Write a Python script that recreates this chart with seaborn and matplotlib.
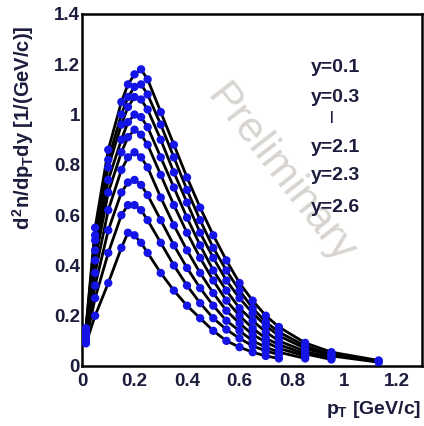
import numpy as np
import pandas as pd
import matplotlib
matplotlib.use("Agg")
import matplotlib.pyplot as plt
from matplotlib.ticker import MultipleLocator, FormatStrFormatter
import seaborn as sns

# ---------------- data ----------------
pt = [0.015, 0.05, 0.1, 0.15, 0.175, 0.2, 0.225, 0.25, 0.3, 0.35, 0.4, 0.45,
      0.5, 0.55, 0.6, 0.65, 0.7, 0.75, 0.85, 0.95, 1.13]
nan = np.nan
curve_1 = [0.15, 0.55, 0.86, 1.05, 1.12, 1.16, 1.18, 1.14, 1.01, 0.88, 0.75, 0.63,
           0.52, 0.42, 0.33, 0.26, 0.20, 0.155, 0.092, 0.055, 0.022]
curve_2 = [0.15, 0.52, 0.82, 1.00, 1.07, 1.11, 1.12, 1.08, 0.96, 0.83, 0.70, 0.58,
           0.47, 0.38, 0.30, 0.23, 0.175, 0.135, 0.080, 0.045, 0.018]
curve_3 = [0.14, 0.50, 0.79, 0.96, 1.03, 1.07, 1.06, 1.02, 0.90, 0.77, 0.65, 0.53,
           0.43, 0.34, 0.27, 0.21, 0.16, 0.12, 0.070, 0.040, 0.015]
curve_4 = [0.14, 0.46, 0.74, 0.90, 0.97, 1.00, 0.99, 0.95, 0.83, 0.71, 0.59, 0.48,
           0.38, 0.30, 0.23, 0.18, 0.135, 0.10, 0.058, 0.032, nan]
curve_5 = [0.13, 0.42, 0.69, 0.85, 0.91, 0.94, 0.92, 0.88, 0.76, 0.64, 0.53, 0.43,
           0.34, 0.26, 0.20, 0.15, 0.11, 0.085, 0.048, 0.026, nan]
curve_6 = [0.12, 0.37, 0.62, 0.78, 0.83, 0.85, 0.83, 0.79, 0.67, 0.56, 0.46, 0.37,
           0.29, 0.22, 0.17, 0.125, 0.095, 0.07, 0.040, nan, nan]
curve_7 = [0.11, 0.32, 0.54, 0.69, 0.73, 0.74, 0.72, 0.68, 0.58, 0.48, 0.39, 0.31,
           0.24, 0.18, 0.14, 0.10, 0.075, 0.055, 0.030, nan, nan]
curve_8 = [0.10, 0.27, 0.45, 0.60, 0.64, 0.64, 0.62, 0.58, 0.49, 0.40, 0.32, 0.25,
           0.19, 0.145, 0.11, 0.08, 0.06, 0.045, nan, nan, nan]
curve_9 = [0.09, 0.20, 0.33, 0.47, 0.53, 0.52, 0.49, 0.45, 0.37, 0.30, 0.24, 0.19,
           0.14, 0.10, 0.075, 0.055, 0.04, 0.03, nan, nan, nan]
curves = [curve_1, curve_2, curve_3, curve_4, curve_5, curve_6, curve_7, curve_8, curve_9]
legend_labels = ["y=0.1", "y=0.3", "|", "y=2.1", "y=2.3", "y=2.6"]
x_ticks = [0, 0.2, 0.4, 0.6, 0.8, 1.0, 1.2]
y_ticks = [0, 0.2, 0.4, 0.6, 0.8, 1.0, 1.2, 1.4]

rows = []
for i, c in enumerate(curves):
    for p, v in zip(pt, c):
        if not np.isnan(v):
            rows.append({"pt": p, "val": v, "curve": i})
df = pd.DataFrame(rows)

# ---------------- style ----------------
sns.set_style("white")
plt.rcParams["font.family"] = ["Liberation Sans", "DejaVu Sans"]
plt.rcParams["mathtext.fontset"] = "custom"
plt.rcParams["mathtext.rm"] = "Liberation Sans:bold"
plt.rcParams["mathtext.bf"] = "Liberation Sans:bold"
plt.rcParams["mathtext.it"] = "Liberation Sans:bold"

fig = plt.figure(figsize=(4.24, 4.26), dpi=100)
ax = fig.add_axes([82 / 424, 60 / 426, 340 / 424, 352 / 426])

text_col = "#1c1c3c"

# watermark
ax.text(0.585, 0.545, "Preliminary", transform=ax.transAxes, rotation=-52,
        ha="center", va="center", fontsize=31, color="#d8d4d0", zorder=0)

sns.lineplot(data=df, x="pt", y="val", units="curve", estimator=None,
             color="black", lw=2.0, ax=ax, zorder=2, legend=False)
sns.scatterplot(data=df, x="pt", y="val", color="#1414e6", s=36,
                edgecolor="none", ax=ax, zorder=3, legend=False)

ax.set_xlim(0, 1.295)
ax.set_ylim(0, 1.4)
ax.set_xticks(x_ticks)
ax.set_yticks(y_ticks)
ax.xaxis.set_major_formatter(FormatStrFormatter("%g"))
ax.yaxis.set_major_formatter(FormatStrFormatter("%g"))
ax.xaxis.set_minor_locator(MultipleLocator(0.05))
ax.yaxis.set_minor_locator(MultipleLocator(0.04))
ax.tick_params(which="major", direction="in", length=9, width=1.6,
               labelsize=13.5, colors="black", labelcolor=text_col,
               top=False, right=False)
ax.tick_params(axis="y", which="major", pad=1.5)
ax.tick_params(axis="x", which="major", pad=5)
ax.tick_params(which="minor", direction="in", length=5, width=1.4,
               top=False, right=False)
for lab in ax.get_xticklabels() + ax.get_yticklabels():
    lab.set_fontweight("bold")
for s in ax.spines.values():
    s.set_linewidth(1.8)
    s.set_color("black")

ax.set_xlabel("")
ax.set_ylabel("")
fig.text(421 / 424, 1 - 409 / 426, r"$p_{T}$ [GeV/c]", ha="right", va="center",
         fontsize=14, fontweight="bold", color=text_col)
fig.text(23 / 424, 1 - 128 / 426, r"$d^{2}n/dp_{T}dy$ [1/(GeV/c)]",
         rotation=90, ha="center", va="center", fontsize=14.5,
         fontweight="bold", color=text_col)

# legend texts
leg_y = [68, 97, 117, 148, 175, 207]
for lab, yy in zip(legend_labels, leg_y):
    xx = 332 if lab == "|" else 335
    fig.text(xx / 424, 1 - yy / 426, lab, ha="center", va="center",
             fontsize=14 if lab != "|" else 9, fontweight="bold", color=text_col)

fig.savefig("out.png", dpi=100)
